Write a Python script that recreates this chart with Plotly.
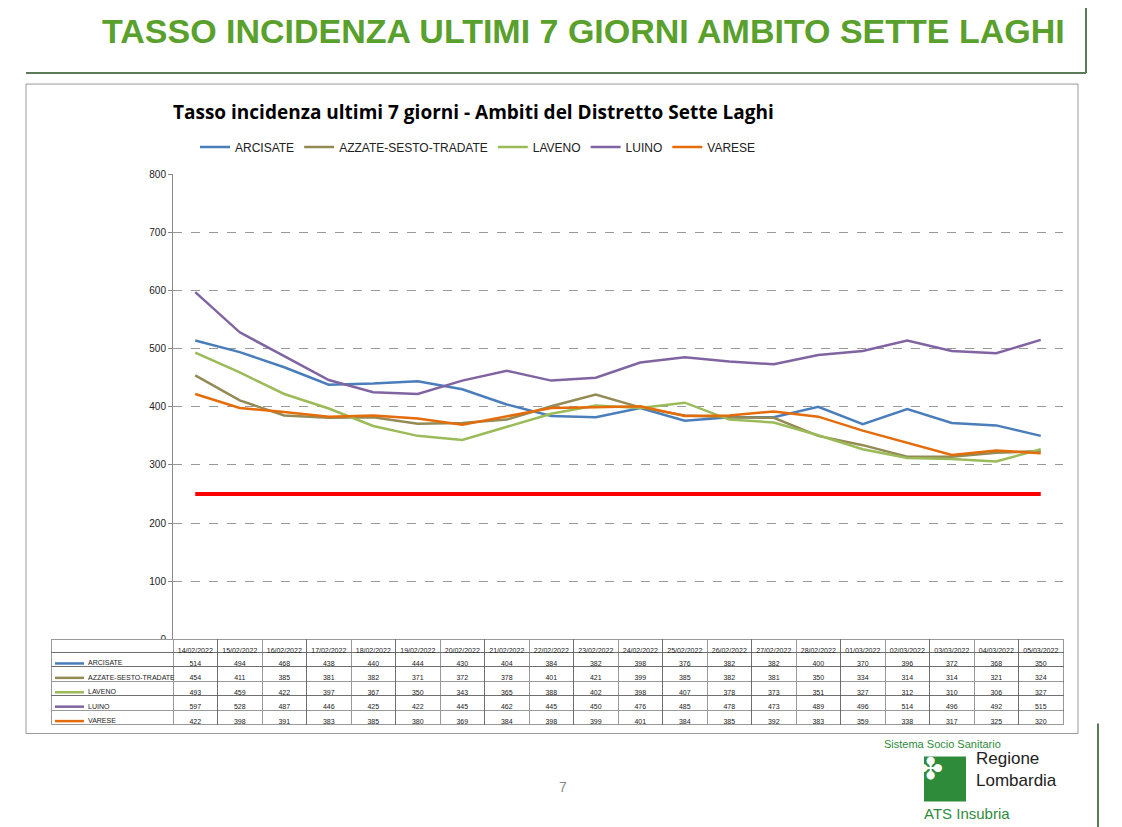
import plotly.graph_objects as go

dates = ['14/02/2022', '15/02/2022', '16/02/2022', '17/02/2022', '18/02/2022', '19/02/2022', '20/02/2022',
         '21/02/2022', '22/02/2022', '23/02/2022', '24/02/2022', '25/02/2022', '26/02/2022', '27/02/2022',
         '28/02/2022', '01/03/2022', '02/03/2022', '03/03/2022', '04/03/2022', '05/03/2022']

# tasso incidenza per ambito
dati = {
    'ARCISATE': [514, 494, 468, 438, 440, 444, 430, 404, 384, 382, 398, 376, 382, 382, 400, 370, 396, 372, 368, 350],
    'AZZATE-SESTO-TRADATE': [454, 411, 385, 381, 382, 371, 372, 378, 401, 421, 399, 385, 382, 381, 350, 334, 314, 314, 321, 324],
    'LAVENO': [493, 459, 422, 397, 367, 350, 343, 365, 388, 402, 398, 407, 378, 373, 351, 327, 312, 310, 306, 327],
    'LUINO': [597, 528, 487, 446, 425, 422, 445, 462, 445, 450, 476, 485, 478, 473, 489, 496, 514, 496, 492, 515],
    'VARESE': [422, 398, 391, 383, 385, 380, 369, 384, 398, 399, 401, 384, 385, 392, 383, 359, 338, 317, 325, 320],
}
colori = {
    'ARCISATE': '#4a7ebb',
    'AZZATE-SESTO-TRADATE': '#948a54',
    'LAVENO': '#9bbb59',
    'LUINO': '#8064a2',
    'VARESE': '#e46c0a',
}
soglia = 250

W, H = 1122, 827
px = lambda x: x / W
# correzione empirica dello spostamento verticale nel rendering
py = lambda y: 1 - ((y - 13) / 0.986) / H

fig = go.Figure()
for nome, vals in dati.items():
    fig.add_trace(go.Scatter(x=dates, y=vals, mode='lines', name=nome,
                             line=dict(color=colori[nome], width=2.5)))
fig.add_trace(go.Scatter(x=dates, y=[soglia] * len(dates), mode='lines', showlegend=False,
                         line=dict(color='#ff0000', width=4)))

# tabella dati sotto il grafico
header = [''] + dates
celle = [['' for n in dati]]
for i in range(len(dates)):
    celle.append([str(dati[n][i]) for n in dati])
fig.add_trace(go.Table(
    domain=dict(x=[px(43), px(1055)], y=[py(740), py(638)]),
    columnwidth=[122] + [44.5] * len(dates),
    header=dict(values=header, height=13, line=dict(color='#555', width=0.6), fill=dict(color='white'),
                font=dict(size=7, color='#222', family='Liberation Sans'), align='center'),
    cells=dict(values=celle, height=14.5, line=dict(color='#555', width=0.6), fill=dict(color='white'),
               font=dict(size=7, color='#222', family='Liberation Sans'),
               align=['left'] + ['center'] * len(dates)),
))

shapes = [
    dict(type='rect', xref='paper', yref='paper', x0=px(18), x1=px(1070), y0=py(732), y1=py(83),
         line=dict(color='#999', width=1)),
    dict(type='line', xref='paper', yref='paper', x0=px(18), x1=px(1078), y0=py(72), y1=py(72),
         line=dict(color='#5a7a5a', width=2)),
    dict(type='line', xref='paper', yref='paper', x0=px(1078), x1=px(1078), y0=py(72), y1=py(0),
         line=dict(color='#5a7a5a', width=2)),
    dict(type='line', xref='paper', yref='paper', x0=px(1090), x1=px(1090), y0=py(827), y1=py(722),
         line=dict(color='#5a7a5a', width=2)),
    dict(type='rect', xref='paper', yref='paper', x0=px(916), x1=px(958), y0=py(800), y1=py(755),
         fillcolor='#2e8b3a', line=dict(width=0)),
]
annotations = [
    dict(text='<b>TASSO INCIDENZA ULTIMI 7 GIORNI AMBITO SETTE LAGHI</b>', xref='paper', yref='paper',
         x=px(575), y=1, yanchor='top', yshift=4, showarrow=False,
         font=dict(size=34, color='#5aa02c', family='Liberation Sans')),
    dict(text='<b>Tasso incidenza ultimi 7 giorni - Ambiti del Distretto Sette Laghi</b>', xref='paper',
         yref='paper', x=px(163), xanchor='left', y=py(96), showarrow=False,
         font=dict(size=19, color='black', family='Open Sans')),
    dict(text='7', xref='paper', yref='paper', x=px(555), y=py(795), showarrow=False,
         font=dict(size=14, color='#888')),
    dict(text='Sistema Socio Sanitario', xref='paper', yref='paper', x=px(995), y=py(750), showarrow=False,
         font=dict(size=11, color='#2e8b3a')),
    dict(text='Regione<br>Lombardia', xref='paper', yref='paper', x=px(966), xanchor='left', y=py(790),
         showarrow=False, align='left', font=dict(size=17, color='#222')),
    dict(text='ATS Insubria', xref='paper', yref='paper', x=px(914), xanchor='left', y=py(822),
         showarrow=False, font=dict(size=15, color='#2e8b3a')),
    dict(text='✤', xref='paper', yref='paper', x=px(937), y=py(785), showarrow=False,
         font=dict(size=30, color='white')),
]
# linee colorate ed etichette nella prima colonna della tabella
for k, n in enumerate(dati):
    yy = 662 + k * 14.4
    shapes.append(dict(type='line', xref='paper', yref='paper', x0=px(47), x1=px(76), y0=py(yy), y1=py(yy),
                       line=dict(color=colori[n], width=2.5)))
    annotations.append(dict(text=n, xref='paper', yref='paper', x=px(78), xanchor='left', y=py(yy + 5),
                            showarrow=False, font=dict(size=7, color='#222')))

fig.update_layout(
    width=W, height=H, margin=dict(l=0, r=0, t=0, b=0),
    paper_bgcolor='white', plot_bgcolor='white',
    font=dict(family='Liberation Sans', color='#222'),
    xaxis=dict(domain=[px(165), px(1055)], type='category', range=[-0.5, len(dates) - 0.5],
               showticklabels=False, showgrid=False, showline=True, linecolor='#888', zeroline=False),
    yaxis=dict(domain=[py(638), py(173)], range=[0, 800], dtick=100, showgrid=True,
               gridcolor='#999', griddash='dash', showline=True, linecolor='#888',
               ticks='outside', ticklen=4, tickcolor='#888', tickfont=dict(size=10), zeroline=False),
    legend=dict(orientation='h', x=px(470), xanchor='center', y=py(146), yanchor='middle',
                font=dict(size=12), bgcolor='rgba(0,0,0,0)'),
    shapes=shapes,
    annotations=annotations,
)
fig.write_html("out.html")
